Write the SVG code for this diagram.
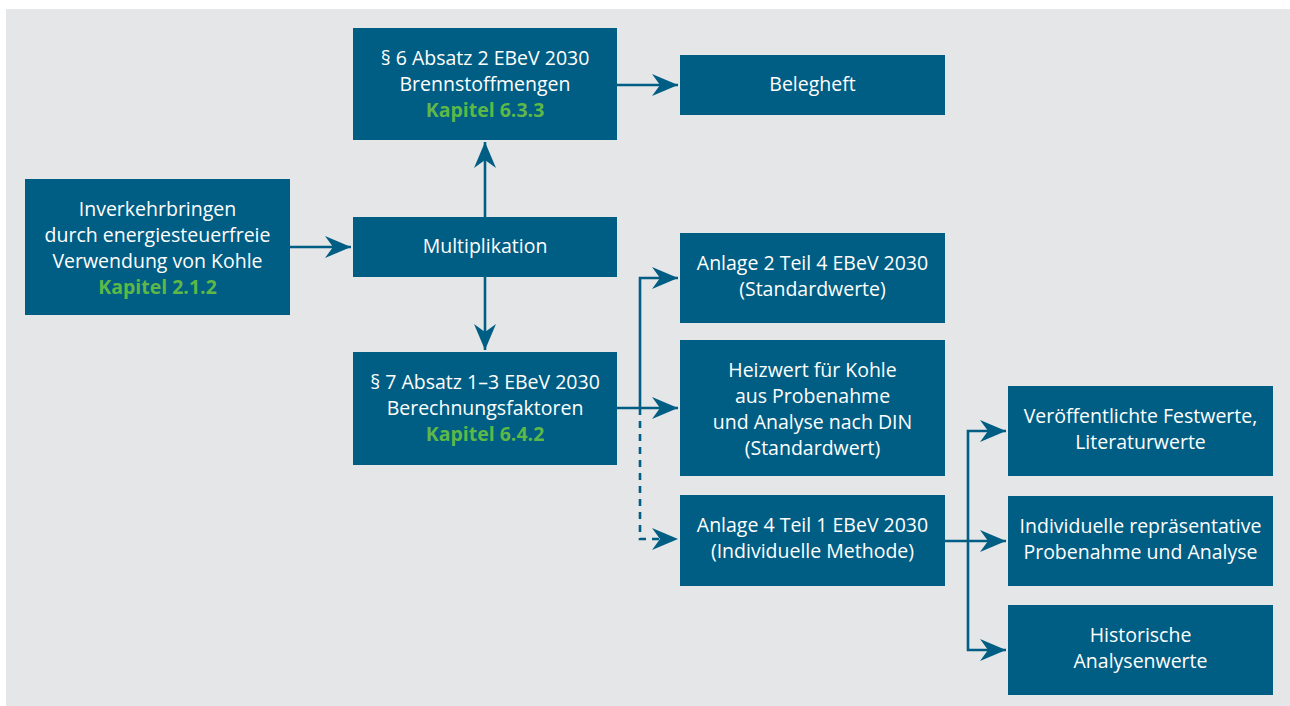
<svg xmlns="http://www.w3.org/2000/svg" width="1290" height="706" viewBox="0 0 1290 706">
<style>
.box{fill:#005E84}
.t{font-family:"Open Sans","Noto Sans",sans-serif;font-size:19.5px;fill:#ffffff;text-anchor:middle}
.g{fill:#5DB848;font-weight:bold}
.c{fill:none;stroke:#005E84;stroke-width:2.6}
.d{stroke-dasharray:7 6}
</style>
<defs>
<marker id="ah" markerUnits="userSpaceOnUse" markerWidth="28" markerHeight="24" refX="26" refY="11" orient="auto">
<path d="M0,0 L26,11 L0,22 L8,11 z" fill="#005E84"/>
</marker>
</defs>
<rect x="6" y="9" width="1284" height="697" fill="#E5E6E8"/>
<g id="connectors">
<path class="c" d="M290,247 H351" marker-end="url(#ah)"/>
<path class="c" d="M485,217 V142" marker-end="url(#ah)"/>
<path class="c" d="M485,277 V350" marker-end="url(#ah)"/>
<path class="c" d="M617,85 H678" marker-end="url(#ah)"/>
<path class="c" d="M617,408 H678" marker-end="url(#ah)"/>
<path class="c" d="M640,408 V278 H678" marker-end="url(#ah)"/>
<path class="c d" d="M640,408 V539 H678" marker-end="url(#ah)"/>
<path class="c" d="M945,541 H1006" marker-end="url(#ah)"/>
<path class="c" d="M968,541 V431 H1006" marker-end="url(#ah)"/>
<path class="c" d="M968,541 V650 H1006" marker-end="url(#ah)"/>
</g>
<g id="n-inverkehr">
<rect class="box" x="25" y="179" width="265" height="136"/>
<text class="t" x="157.5" y="216">Inverkehrbringen</text>
<text class="t" x="157.5" y="242">durch energiesteuerfreie</text>
<text class="t" x="157.5" y="268">Verwendung von Kohle</text>
<text class="t g" x="157.5" y="294">Kapitel 2.1.2</text>
</g>
<g id="n-par6">
<rect class="box" x="353" y="28" width="264" height="112"/>
<text class="t" x="485" y="65">§ 6 Absatz 2 EBeV 2030</text>
<text class="t" x="485" y="91">Brennstoffmengen</text>
<text class="t g" x="485" y="117">Kapitel 6.3.3</text>
</g>
<g id="n-beleg">
<rect class="box" x="680" y="55" width="265" height="60"/>
<text class="t" x="812.5" y="91">Belegheft</text>
</g>
<g id="n-multi">
<rect class="box" x="353" y="217" width="264" height="60"/>
<text class="t" x="485" y="253">Multiplikation</text>
</g>
<g id="n-par7">
<rect class="box" x="353" y="352" width="264" height="113"/>
<text class="t" x="485" y="389">§ 7 Absatz 1–3 EBeV 2030</text>
<text class="t" x="485" y="415">Berechnungsfaktoren</text>
<text class="t g" x="485" y="441">Kapitel 6.4.2</text>
</g>
<g id="n-anlage2">
<rect class="box" x="680" y="233" width="265" height="90"/>
<text class="t" x="812.5" y="270">Anlage 2 Teil 4 EBeV 2030</text>
<text class="t" x="812.5" y="296">(Standardwerte)</text>
</g>
<g id="n-heizwert">
<rect class="box" x="680" y="340" width="265" height="136"/>
<text class="t" x="812.5" y="377">Heizwert für Kohle</text>
<text class="t" x="812.5" y="403">aus Probenahme</text>
<text class="t" x="812.5" y="429">und Analyse nach DIN</text>
<text class="t" x="812.5" y="455">(Standardwert)</text>
</g>
<g id="n-anlage4">
<rect class="box" x="680" y="495" width="265" height="91"/>
<text class="t" x="812.5" y="532">Anlage 4 Teil 1 EBeV 2030</text>
<text class="t" x="812.5" y="558">(Individuelle Methode)</text>
</g>
<g id="n-veroeff">
<rect class="box" x="1008" y="386" width="265" height="90"/>
<text class="t" x="1140.5" y="423">Veröffentlichte Festwerte,</text>
<text class="t" x="1140.5" y="449">Literaturwerte</text>
</g>
<g id="n-individuell">
<rect class="box" x="1008" y="496" width="265" height="90"/>
<text class="t" x="1140.5" y="533">Individuelle repräsentative</text>
<text class="t" x="1140.5" y="559">Probenahme und Analyse</text>
</g>
<g id="n-historisch">
<rect class="box" x="1008" y="605" width="265" height="90"/>
<text class="t" x="1140.5" y="642">Historische</text>
<text class="t" x="1140.5" y="668">Analysenwerte</text>
</g>
</svg>
